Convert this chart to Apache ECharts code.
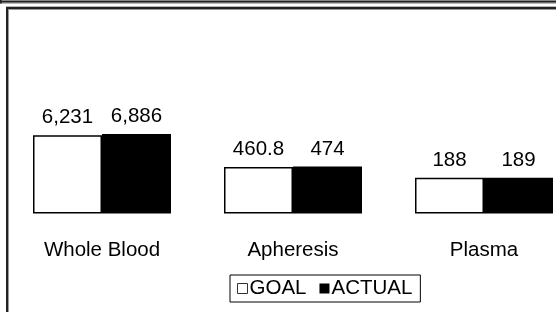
<!DOCTYPE html>
<html>
<head>
<meta charset="utf-8">
<script src="https://cdn.jsdelivr.net/npm/echarts@6/dist/echarts.min.js"></script>
<style>
html,body{margin:0;padding:0;background:#fff;}
#c{width:556px;height:312px;}
</style>
</head>
<body>
<div id="c"></div>
<script>
const categories = ['Whole Blood', 'Apheresis', 'Plasma'];
const goalValues = [6231, 460.8, 188];
const actualValues = [6886, 474, 189];
const seriesNames = ['GOAL', 'ACTUAL'];

const FONT = '"Liberation Sans", Arial, sans-serif';
const FS = 20.5;
const fmt = v => v.toLocaleString('en-US', {maximumFractionDigits: 1});

const chart = echarts.init(document.getElementById('c'), null, {renderer: 'canvas'});

function line(x1, y1, x2, y2, color, w) {
  return {type: 'line', silent: true, z: 100,
    shape: {x1, y1, x2, y2}, style: {stroke: color, lineWidth: w}};
}

chart.setOption({
  animation: false,
  backgroundColor: '#fff',
  grid: {left: 6.5, width: 573, top: 101.5, height: 112, containLabel: false, outerBoundsMode: 'none'},
  xAxis: {
    type: 'category',
    data: categories,
    axisLine: {show: false},
    axisTick: {show: false},
    axisLabel: {color: '#000', fontSize: FS, fontFamily: FONT, margin: 26}
  },
  yAxis: {
    type: 'log',
    logBase: 10,
    min: 10,
    max: 100000,
    startValue: 10,
    show: false,
    splitLine: {show: false}
  },
  legend: {
    left: 230,
    top: 275,
    orient: 'horizontal',
    padding: [3, 8, 3, 7],
    itemGap: 13,
    itemWidth: 10,
    itemHeight: 10,
    borderColor: '#000',
    borderWidth: 1,
    textStyle: {color: '#000', fontSize: FS, fontFamily: FONT, padding: [0, 0, 0, -3]},
    data: [
      {name: seriesNames[0], icon: 'rect', itemStyle: {color: '#fff', borderColor: '#333', borderWidth: 1}},
      {name: seriesNames[1], icon: 'rect', itemStyle: {color: '#000'}}
    ]
  },
  series: [
    {
      name: seriesNames[0],
      type: 'bar',
      data: goalValues,
      barWidth: 69,
      barGap: '0%',
      clip: true,
      itemStyle: {color: '#fff', borderColor: '#000', borderWidth: 1.5},
      label: {show: true, position: 'top', distance: 7, color: '#000', fontSize: FS, fontFamily: FONT,
        formatter: p => fmt(p.value)}
    },
    {
      name: seriesNames[1],
      type: 'bar',
      data: actualValues,
      barWidth: 69,
      barGap: '0%',
      clip: true,
      itemStyle: {color: '#000'},
      label: {show: true, position: 'top', distance: 7, color: '#000', fontSize: FS, fontFamily: FONT,
        formatter: p => fmt(p.value)}
    }
  ],
  graphic: [
    line(0, 0.5, 556, 0.5, '#aaa', 1),
    line(0, 1.8, 556, 1.8, '#222', 2),
    line(0, 3.2, 556, 3.2, '#999', 1),
    line(0.8, 0, 0.8, 3.5, '#222', 1.6),
    line(6, 6.5, 556, 6.5, '#bbb', 1),
    line(6, 8, 556, 8, '#222', 2),
    line(8, 9.5, 556, 9.5, '#999', 1),
    line(7, 7, 7, 312, '#222', 2),
    line(8.5, 9, 8.5, 312, '#999', 1)
  ]
});
</script>
</body>
</html>
